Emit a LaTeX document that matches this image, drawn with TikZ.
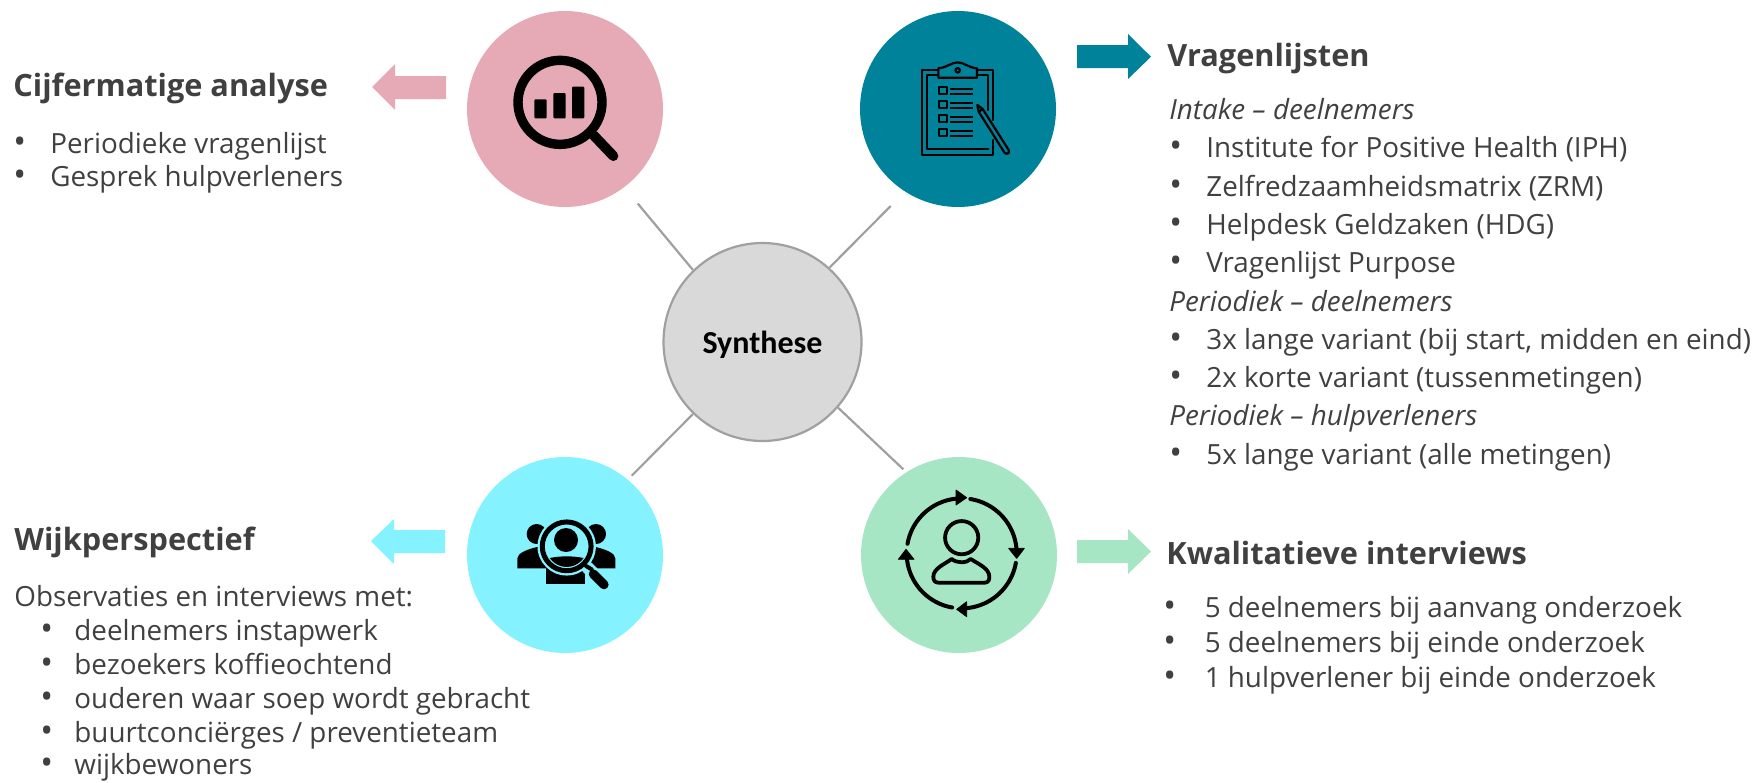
\documentclass[tikz,border=0pt]{standalone}
\usepackage{fontspec}
\setmainfont{Open Sans}
\newfontfamily\calib{Carlito}
\definecolor{cpink}{HTML}{E6AAB6}
\definecolor{cteal}{HTML}{00829B}
\definecolor{ccyan}{HTML}{85F2FF}
\definecolor{cgreen}{HTML}{A6E6C4}
\definecolor{ctext}{HTML}{404040}
\definecolor{cgrey}{HTML}{D9D9D9}
\definecolor{cline}{HTML}{A0A0A0}
\newcommand\bul[2]{\makebox[#1pt][l]{\fontsize{17}{15}\selectfont•}#2}
\tikzset{
  topic/.style={circle,minimum size=98pt,inner sep=0pt,draw=none},
  spoke/.style={draw=cline,line width=1.1pt},
  headtxt/.style={anchor=base west,inner sep=0pt,text=ctext,font=\fontsize{15.35}{17}\selectfont\bfseries},
  bodytxt/.style={anchor=base west,inner sep=0pt,text=ctext,font=\fontsize{13.9}{15}\selectfont},
  itemtxt/.style={bodytxt,font=\fontsize{13.9}{15}\selectfont\itshape},
  iconscope/.style={x=0.16667pt,y=-0.16667pt},
  ink/.style={draw=black,line width=#1pt,line cap=round,line join=round},
  ink/.default=1.2
}
\begin{document}
\begin{tikzpicture}[x=0.5pt,y=-0.5pt]
\useasboundingbox (0,0) rectangle (1759,782);
% circles
\node[topic,fill=cpink]  (pink)  at (565,109) {};
\node[topic,fill=cteal]  (teal)  at (958,109) {};
\node[topic,fill=ccyan]  (cyan)  at (565,555) {};
\node[topic,fill=cgreen] (green) at (959,555) {};
\node[circle,minimum size=99pt,inner sep=0pt,fill=cgrey,draw=cline,line width=1.1pt] (syn) at (762.5,342) {};
\node[font=\calib\fontsize{16}{17}\selectfont\bfseries,inner sep=0pt,anchor=base] (syntxt) at (762.5,353) {Synthese};
% spokes
\coordinate (tl) at (637.7,203.5);
\coordinate (tr) at (890.7,206);
\coordinate (bl) at (631.7,475.7);
\coordinate (br) at (903.3,469.3);
\draw[spoke] (syn.134) -- (tl);
\draw[spoke] (syn.48) -- (tr);
\draw[spoke] (syn.226) -- (bl);
\draw[spoke] (syn.319) -- (br);
% block arrows
\fill[cpink] (372,87) -- (395,64) -- (395,76) -- (446,76) -- (446,99) -- (395,99) -- (395,110) -- cycle;
\fill[cteal] (1151,56.7) -- (1128,34) -- (1128,45) -- (1077,45) -- (1077,68) -- (1128,68) -- (1128,79) -- cycle;
\fill[ccyan] (371,541) -- (394,519) -- (394,530) -- (445,530) -- (445,553) -- (394,553) -- (394,564) -- cycle;
\fill[cgreen] (1151,551.5) -- (1128,529) -- (1128,540) -- (1077,540) -- (1077,563) -- (1128,563) -- (1128,574) -- cycle;
% icon: magnifier with bars
\begin{scope}[shift={(450,0)},iconscope]
\draw[ink=4.7] (330,307) circle[radius=126pt/6];
\draw[ink=5] (432,407) -- (490,468);
\fill[black,rounded corners=0.5pt] (253,298) rectangle (290,355);
\fill[black,rounded corners=0.5pt] (310,279) rectangle (347,355);
\fill[black,rounded corners=0.5pt] (366,260) rectangle (403,355);
\end{scope}
% icon: clipboard
\begin{scope}[shift={(915,55)},iconscope]
\draw[ink=1.1] (70,45) -- (20,45) -- (20,300) -- (235,300) -- (235,255);
\draw[ink=1.1] (185,45) -- (235,45) -- (235,195);
\draw[ink=1.1] (70,60) -- (35,60) -- (35,282) -- (220,282);
\draw[ink=1.1] (185,60) -- (220,60) -- (220,165);
\draw[ink=1.1] (70,68) -- (70,40) .. controls (95,38) and (110,22) .. (128,22) .. controls (146,22) and (160,38) .. (186,40) -- (186,68) -- cycle;
\draw[ink=1.1] (128,46) circle[radius=1.1pt];
\foreach \yy in {95,137,179,221}{
  \draw[ink=1.1,line cap=butt] (72,\yy) rectangle (95,{\yy+23});
  \draw[ink=1.1,line cap=butt] (105,{\yy+6}) -- (173,{\yy+6});
  \draw[ink=1.1,line cap=butt] (105,{\yy+21}) -- (173,{\yy+21});
}
\draw[ink=1.1] (187,150) -- (203,162) -- (281,285) .. controls (286,296) and (272,300) .. (268,292) -- (191,170) -- cycle;
\draw[ink=1.1] (191,170) -- (203,162);
\end{scope}
% icon: people with magnifier
\begin{scope}[shift={(510,510)},iconscope]
\fill[black] (80,72) circle[radius=5pt];
\fill[black] (258,72) circle[radius=5pt];
\fill[black] (22,175) -- (22,145) .. controls (22,130) and (50,118) .. (85,110) -- (115,175) -- cycle;
\fill[black] (316,175) -- (316,145) .. controls (316,130) and (288,118) .. (253,110) -- (223,175) -- cycle;
\fill[black] (107,222) -- (107,170) -- (225,170) -- (225,222) -- cycle;
\fill[ccyan] (170,109) circle[radius=14.6pt];
\draw[ccyan,line width=6.2pt,line cap=round] (232,172) -- (285,225);
\draw[ink=2.5] (170,109) circle[radius=12.2pt];
\fill[black] (168,90) circle[radius=6pt];
\begin{scope}
\clip (170,109) circle[radius=10.3pt];
\fill[black] (80,210) -- (80,160) .. controls (115,132) and (225,132) .. (260,160) -- (260,210) -- cycle;
\end{scope}
\draw[ink=2] (228,168) -- (245,178);
\draw[ink=4.6] (250,192) -- (282,224);
\end{scope}
% icon: person in cycle
\begin{scope}[shift={(850,460)},iconscope]
\draw[ink=1.9] (335,233) circle[radius=8.3pt];
\draw[ink=1.9] (305,297) .. controls (285,312) and (250,325) .. (250,350) .. controls (250,362) and (255,368) .. (266,368) -- (404,368) .. controls (415,368) and (418,360) .. (418,350) .. controls (418,325) and (385,312) .. (362,297) .. controls (350,310) and (320,310) .. (305,297) -- cycle;
\draw[ink=2] plot[domain=190:265,samples=25] ({335+165*cos(\x)},{280+165*sin(\x)});
\draw[ink=2] plot[domain=-81:-5,samples=25] ({335+165*cos(\x)},{280+165*sin(\x)});
\draw[ink=2] plot[domain=10:85,samples=25] ({335+165*cos(\x)},{280+165*sin(\x)});
\draw[ink=2] plot[domain=100:175,samples=25] ({335+165*cos(\x)},{280+165*sin(\x)});
\fill[black,draw=black,line width=.4pt,line join=round] (350,113) -- (318,90) -- (318,135) -- cycle;
\fill[black,draw=black,line width=.4pt,line join=round] (500,295) -- (476,265) -- (523,265) -- cycle;
\fill[black,draw=black,line width=.4pt,line join=round] (320,448) -- (350,425) -- (350,470) -- cycle;
\fill[black,draw=black,line width=.4pt,line join=round] (168,268) -- (145,298) -- (192,298) -- cycle;
\end{scope}
% Cijfermatige analyse
\node[headtxt] (h1) at (13,96.7) {Cijfermatige analyse};
\node[bodytxt] (a1) at (13,153.2) {\bul{18.5}{Periodieke vragenlijst}};
\node[bodytxt] (a2) at (13,186.5) {\bul{18.5}{Gesprek hulpverleners}};
% Vragenlijsten
\node[headtxt] (h2) at (1167,66.7) {Vragenlijsten};
\node[itemtxt] (v0) at (1169,119.5) {Intake – deelnemers};
\node[bodytxt] (v1) at (1169,157.8) {\bul{18.5}{Institute for Positive Health (IPH)}};
\node[bodytxt] (v2) at (1169,196.1) {\bul{18.5}{Zelfredzaamheidsmatrix (ZRM)}};
\node[bodytxt] (v3) at (1169,234.4) {\bul{18.5}{Helpdesk Geldzaken (HDG)}};
\node[bodytxt] (v4) at (1169,272.7) {\bul{18.5}{Vragenlijst Purpose}};
\node[itemtxt] (v5) at (1169,311) {Periodiek – deelnemers};
\node[bodytxt] (v6) at (1169,349.3) {\bul{18.5}{3x lange variant (bij start, midden en eind)}};
\node[bodytxt] (v7) at (1169,387.6) {\bul{18.5}{2x korte variant (tussenmetingen)}};
\node[itemtxt] (v8) at (1169,425.9) {Periodiek – hulpverleners};
\node[bodytxt] (v9) at (1169,464.2) {\bul{18.5}{5x lange variant (alle metingen)}};
% Kwalitatieve interviews
\node[headtxt] (h3) at (1166,564.5) {Kwalitatieve interviews};
\node[bodytxt] (k1) at (1163,617) {\bul{20.7}{5 deelnemers bij aanvang onderzoek}};
\node[bodytxt] (k2) at (1163,652) {\bul{20.7}{5 deelnemers bij einde onderzoek}};
\node[bodytxt] (k3) at (1163,687) {\bul{20.7}{1 hulpverlener bij einde onderzoek}};
% Wijkperspectief
\node[headtxt] (h4) at (14,550) {Wijkperspectief};
\node[bodytxt] (w0) at (14,606) {Observaties en interviews met:};
\node[bodytxt] (w1) at (40,640) {\bul{17}{deelnemers instapwerk}};
\node[bodytxt] (w2) at (40,674) {\bul{17}{bezoekers koffieochtend}};
\node[bodytxt] (w3) at (40,708) {\bul{17}{ouderen waar soep wordt gebracht}};
\node[bodytxt] (w4) at (40,742) {\bul{17}{buurtconciërges / preventieteam}};
\node[bodytxt] (w5) at (40,774) {\bul{17}{wijkbewoners}};
\end{tikzpicture}
\end{document}
